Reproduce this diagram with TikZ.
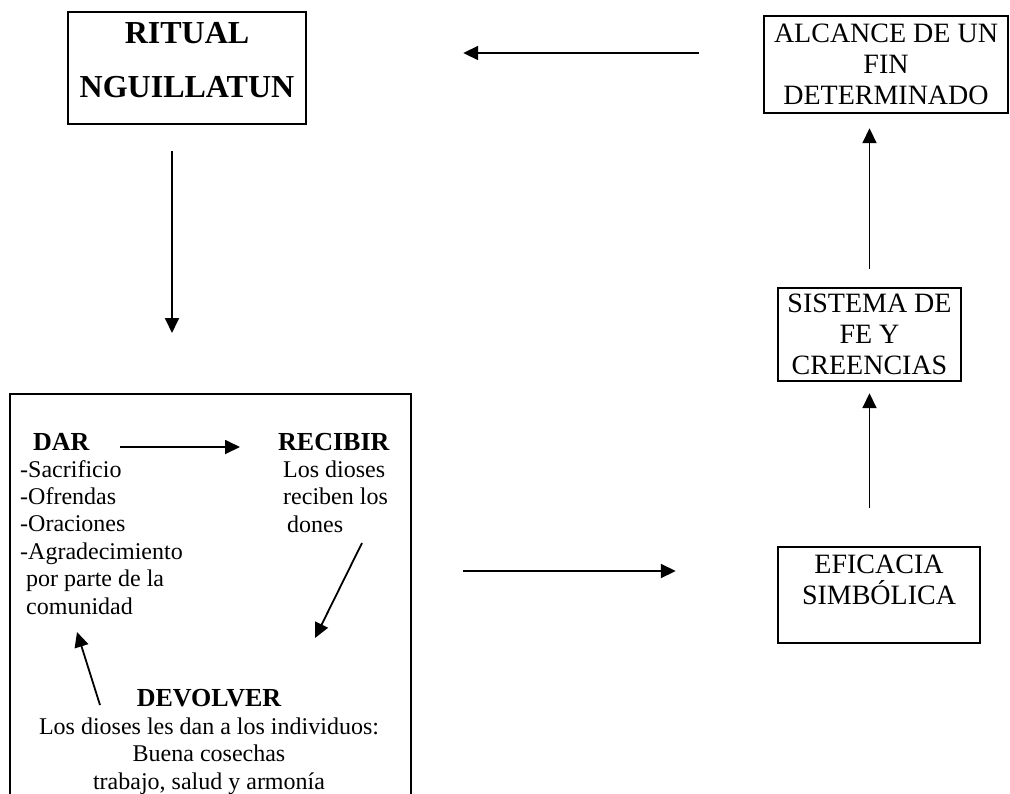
\documentclass[tikz,border=0pt]{standalone}
\usepackage{fontspec}
\setmainfont{Liberation Serif}
\usetikzlibrary{arrows.meta,calc}
\begin{document}
\begin{tikzpicture}[x=1pt,y=-1pt,
  box/.style={draw,line width=2.4pt,inner sep=0pt,align=center,font=\fontsize{28}{31}\selectfont},
  arr/.style={line width=1.8pt,-{Triangle[length=15pt,width=14pt]}},
  head/.style={inner sep=0pt,font=\bfseries\fontsize{26}{30}\selectfont},
  body/.style={inner sep=0pt,font=\fontsize{24}{27.4}\selectfont},
]
\useasboundingbox (0,0) rectangle (1010,793);
\clip (0,0) rectangle (1010,793);
% boxes
\node[box,minimum width=238pt,minimum height=112pt,font=\bfseries\fontsize{32}{54}\selectfont] (ritual) at (187,68) {RITUAL\\NGUILLATUN\\[-38pt]\mbox{}};
\node[box,minimum width=244pt,minimum height=97pt] (alcance) at (886,64.5) {ALCANCE DE UN\\FIN\\DETERMINADO};
\node[box,minimum width=183pt,minimum height=93pt] (sistema) at (869.5,334.5) {SISTEMA DE\\FE Y\\CREENCIAS};
\node[box,minimum width=202pt,minimum height=96pt] (eficacia) at (879,595) {EFICACIA\\SIMBÓLICA\\\mbox{}};
\node[box,minimum width=401pt,minimum height=460pt,anchor=north west] (ciclo) at (9,393) {};
% cycle texts (base anchor = baseline of the last line)
\node[head,anchor=base west] (dar) at (33,450) {DAR};
\node[head,anchor=base west] (recibir) at (278,450) {RECIBIR};
\node[body,align=left,anchor=base west] (darlist) at (20,614) {-Sacrificio\\-Ofrendas\\-Oraciones\\-Agradecimiento\\\hspace*{6pt}por parte de la\\\hspace*{6pt}comunidad};
\node[body,align=left,anchor=base west] (recibtxt) at (283,532) {Los dioses\\reciben los\\\hspace*{4pt}dones};
\node[head,anchor=base] (devolver) at (209,706) {DEVOLVER};
\node[body,align=center,anchor=base] (devtxt) at (209,789) {Los dioses les dan a los individuos:\\Buena cosechas\\trabajo, salud y armonía};
% inner arrows
\coordinate (r1) at (362,543);
\coordinate (d1) at (315,638);
\coordinate (d2) at (100,705);
\coordinate (a2) at (77,632);
\draw[arr,shorten <=30pt,shorten >=38pt] ([yshift=3pt]dar.base east) -- ([yshift=3pt]recibir.base west);
\draw[arr] (r1) -- (d1);
\draw[arr] (d2) -- (a2);
% outer arrows
\draw[arr,shorten <=26pt,shorten >=60pt] ([xshift=-15pt]ritual.south) -- ([xshift=-15pt]ritual.south |- ciclo.north);
\draw[arr,shorten <=64pt,shorten >=156pt] ([yshift=11.5pt]alcance.west) -- ([yshift=15pt]ritual.east);
\draw[arr,shorten <=51pt,shorten >=101pt] ($(ciclo.east |- eficacia.west)+(0,-24)$) -- ($(eficacia.west)+(0,-24)$);
\draw[arr,shorten <=38pt,shorten >=11pt] (eficacia.north -| sistema.south) -- (sistema.south);
\draw[arr,shorten <=18pt,shorten >=14pt] (sistema.north) -- (sistema.north |- alcance.south);
\end{tikzpicture}
\end{document}
